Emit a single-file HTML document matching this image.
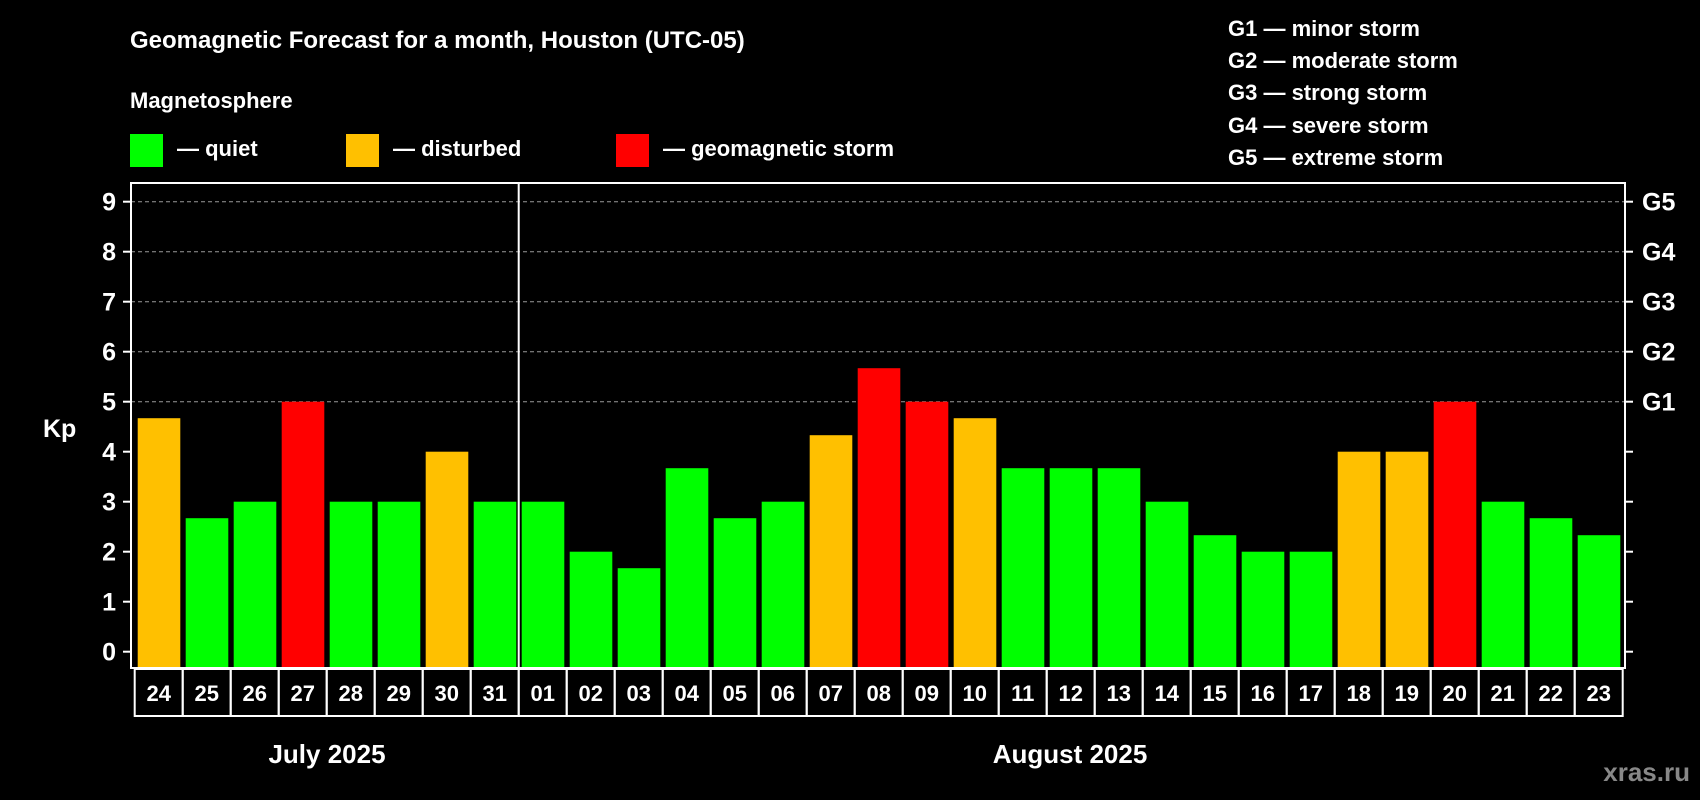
<!DOCTYPE html>
<html><head><meta charset="utf-8"><style>
html,body{margin:0;padding:0;background:#000;}
svg{display:block;font-family:"Liberation Sans",Arial,sans-serif;font-weight:bold;}
</style></head><body>
<svg id="chart" width="1700" height="800" viewBox="0 0 1700 800">
<rect width="1700" height="800" fill="#000"/>
<text x="130" y="48" fill="#fff" font-size="24">Geomagnetic Forecast for a month, Houston (UTC-05)</text>
<text x="130" y="108" fill="#fff" font-size="22">Magnetosphere</text>
<g><rect x="130" y="134" width="33" height="33" fill="#00ff00"/><text x="177" y="156" fill="#fff" font-size="22">— quiet</text></g>
<g><rect x="346" y="134" width="33" height="33" fill="#ffc000"/><text x="393" y="156" fill="#fff" font-size="22">— disturbed</text></g>
<g><rect x="616" y="134" width="33" height="33" fill="#ff0000"/><text x="663" y="156" fill="#fff" font-size="22">— geomagnetic storm</text></g>
<g fill="#fff" font-size="22">
<text x="1228" y="36">G1 — minor storm</text>
<text x="1228" y="68">G2 — moderate storm</text>
<text x="1228" y="100">G3 — strong storm</text>
<text x="1228" y="133">G4 — severe storm</text>
<text x="1228" y="165">G5 — extreme storm</text>
</g>
<text x="43" y="437" fill="#fff" font-size="25">Kp</text>
<text x="327" y="763" fill="#fff" font-size="26" text-anchor="middle">July 2025</text>
<text x="1070" y="763" fill="#fff" font-size="26" text-anchor="middle">August 2025</text>
<text x="1690" y="781" fill="#888" font-size="26" text-anchor="end">xras.ru</text>
<g id="plot"></g>
</svg>
<script>
const days = ["24","25","26","27","28","29","30","31","01","02","03","04","05","06","07","08","09","10","11","12","13","14","15","16","17","18","19","20","21","22","23"];
const kpValues = [4.67,2.67,3,5,3,3,4,3,3,2,1.67,3.67,2.67,3,4.33,5.67,5,4.67,3.67,3.67,3.67,3,2.33,2,2,4,4,5,3,2.67,2.33];
const yTicks = [0,1,2,3,4,5,6,7,8,9];
const gLabels = ["G1","G2","G3","G4","G5"];
const gLevels = [5,6,7,8,9];

const NS = "http://www.w3.org/2000/svg";
const plot = document.getElementById("plot");
const X0 = 134.7, STEP = 48, PL = 131, PR = 1625, PT = 183, PB = 668;
function yScale(v){ return 651.7 - 50 * v; }
function xScale(i){ return X0 + STEP * i; }
function mk(tag, attrs){ const e = document.createElementNS(NS, tag); for (const k in attrs) e.setAttribute(k, attrs[k]); plot.appendChild(e); return e; }
function color(v){ return v >= 5 ? "#ff0000" : (v >= 4 ? "#ffc000" : "#00ff00"); }

gLevels.forEach((g, i) => {
  const l = mk("line", {x1: PL, x2: PR, y1: yScale(g), y2: yScale(g), stroke: "#999", "stroke-width": 1, "stroke-dasharray": "4,3"});
  
  
  const t = mk("text", {x: 1642, y: yScale(g) + 9, fill: "#fff", "font-size": 25});
  t.textContent = gLabels[i];
  
  
});

kpValues.forEach((v, i) => {
  const r = mk("rect", {x: xScale(i) + 3, y: yScale(v), width: 42.6, height: PB - yScale(v), fill: color(v)});
  
  
  const b = mk("rect", {x: xScale(i), y: 669, width: STEP, height: 47, fill: "none", stroke: "#fff", "stroke-width": 2});
  
  
  const t = mk("text", {x: xScale(i) + STEP / 2, y: 701, fill: "#fff", "font-size": 22, "text-anchor": "middle"});
  t.textContent = days[i];
  
  
});

yTicks.forEach(v => {
  const t = mk("text", {x: 116, y: yScale(v) + 9, fill: "#fff", "font-size": 25, "text-anchor": "end"});
  t.textContent = v;
  
  
  const l1 = mk("line", {x1: 123, x2: PL, y1: yScale(v), y2: yScale(v), stroke: "#fff", "stroke-width": 2});
  
  
  const l2 = mk("line", {x1: PR, x2: PR + 8, y1: yScale(v), y2: yScale(v), stroke: "#fff", "stroke-width": 2});
  
  
});

const sepIdx = days.indexOf("01");
const sep = mk("line", {x1: xScale(sepIdx), x2: xScale(sepIdx), y1: PT, y2: PB, stroke: "#fff", "stroke-width": 2});


const frame = mk("rect", {x: PL, y: PT, width: PR - PL, height: PB - PT, fill: "none", stroke: "#fff", "stroke-width": 2});


</script>
</body></html>
